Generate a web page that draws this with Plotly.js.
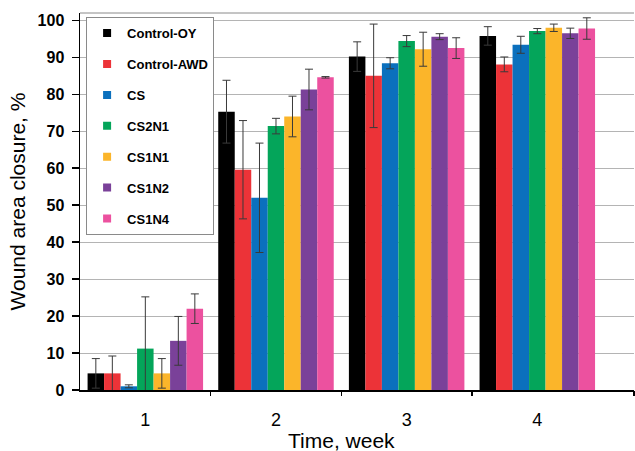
<!DOCTYPE html>
<html>
<head>
<meta charset="utf-8">
<script src="https://cdn.plot.ly/plotly-3.0.1.min.js"></script>
<style>html,body{margin:0;padding:0;background:#fff;}#chart{width:635px;height:451px;}</style>
</head>
<body>
<div id="chart"></div>
<script>
var weeks = ['1', '2', '3', '4'];
var seriesNames = ['Control-OY', 'Control-AWD', 'CS', 'CS2N1', 'CS1N1', 'CS1N2', 'CS1N4'];
var seriesColors = ['#000000', '#ec3338', '#0b70bd', '#04a55a', '#fbb52a', '#7a4199', '#ec519f'];

var controlOY  = [4.5, 75.3, 90.2, 95.8];
var controlAWD = [4.5, 59.6, 85.0, 88.1];
var cs         = [1.0, 52.0, 88.4, 93.4];
var cs2n1      = [11.2, 71.4, 94.4, 97.1];
var cs1n1      = [4.5, 74.0, 92.2, 98.0];
var cs1n2      = [13.3, 81.3, 95.6, 96.5];
var cs1n4      = [22.0, 84.6, 92.5, 97.8];

var errOY  = [4.0, 8.5, 4.0, 2.5];
var errAWD = [4.7, 13.3, 14.0, 2.0];
var errCS  = [0.4, 14.8, 1.5, 2.3];
var err2N1 = [14.0, 2.1, 1.5, 0.7];
var err1N1 = [4.0, 5.5, 4.6, 1.0];
var err1N2 = [6.6, 5.5, 0.8, 1.4];
var err1N4 = [4.0, 0.2, 2.8, 2.9];

var values = [controlOY, controlAWD, cs, cs2n1, cs1n1, cs1n2, cs1n4];
var errors = [errOY, errAWD, errCS, err2N1, err1N1, err1N2, err1N4];

var FONT = 'Liberation Sans, Arial, sans-serif';
var traces = [];
for (var i = 0; i < seriesNames.length; i++) {
  traces.push({
    type: 'bar', x: weeks, y: values[i], name: seriesNames[i],
    marker: {color: seriesColors[i], line: {width: 0}},
    error_y: {type: 'data', array: errors[i], visible: true, color: '#3a3a3a', thickness: 1, width: 4},
    showlegend: false, hoverinfo: 'y'
  });
}
for (var j = 0; j < seriesNames.length; j++) {
  traces.push({
    type: 'scatter', mode: 'markers', x: [null], y: [null], xaxis: 'x2',
    name: seriesNames[j], legendgroup: 'g' + j,
    marker: {symbol: 'square', size: 8, color: seriesColors[j]},
    showlegend: true
  });
}

var xr = [-0.5, 3.74];
var layout = {
  width: 635, height: 451,
  margin: {l: 80, r: 1, t: 13, b: 61, pad: 0},
  paper_bgcolor: '#ffffff', plot_bgcolor: '#ffffff',
  font: {family: FONT, color: '#000'},
  barmode: 'group', bargap: 0.116, bargroupgap: 0,
  xaxis: {
    type: 'category', range: xr, showgrid: false, zeroline: false,
    showline: true, linecolor: '#000', linewidth: 1.5,
    ticks: '', tickfont: {family: FONT, size: 18, color: '#000'},
    ticklabelstandoff: 13, fixedrange: true
  },
  xaxis2: {
    overlaying: 'x', side: 'bottom', range: xr, type: 'linear',
    tickmode: 'array', tickvals: [0.5, 1.5, 2.5, 3.74],
    ticks: 'outside', ticklen: 5, tickwidth: 1.5, tickcolor: '#000',
    showticklabels: false, showgrid: false, zeroline: false, showline: false
  },
  yaxis: {
    range: [0, 102], dtick: 10, tick0: 0,
    showgrid: true, gridcolor: '#b4b4b4', gridwidth: 1, zeroline: false,
    showline: true, linecolor: '#000', linewidth: 1.5,
    ticks: 'outside', ticklen: 7, tickwidth: 1.5, tickcolor: '#000',
    tickfont: {family: FONT, size: 16, color: '#000', weight: 'bold'},
    ticklabelstandoff: 4,
    title: {text: 'Wound area closure, %', font: {family: FONT, size: 21, color: '#000'}, standoff: 6}
  },
  legend: {
    x: 0.011, y: 0.989, xanchor: 'left', yanchor: 'top',
    bgcolor: '#ffffff', bordercolor: '#8a8a8a', borderwidth: 1,
    font: {family: FONT, size: 13, color: '#000', weight: 'bold'},
    traceorder: 'grouped', tracegroupgap: 11, itemwidth: 30
  },
  shapes: [{
    type: 'line', xref: 'paper', yref: 'paper', x0: 0, x1: 1, y0: 1, y1: 1,
    line: {color: '#8a8a8a', width: 1}
  }],
  annotations: [{
    text: 'Time, week', xref: 'x', yref: 'paper', x: 1.5, y: -0.133,
    xanchor: 'center', yanchor: 'middle', showarrow: false,
    font: {family: FONT, size: 21, color: '#000'}
  }]
};

Plotly.newPlot('chart', traces, layout, {displayModeBar: false, staticPlot: true});
</script>
</body>
</html>
